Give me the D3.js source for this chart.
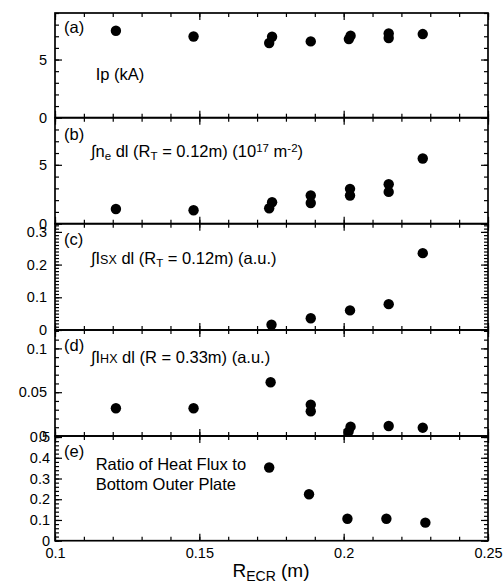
<!DOCTYPE html>
<html><head><meta charset="utf-8">
<script src="https://cdn.jsdelivr.net/npm/d3@7"></script>
<style>
body{margin:0;background:#fff}
svg{display:block}
text{font-family:"Liberation Sans",Arial,Helvetica,sans-serif;fill:#000}
</style>
</head><body>
<svg id="chart" width="503" height="582"></svg>
<script>
// ---------- data ----------
const xDomain = [0.1, 0.25];
const xMajorTicks = [0.1, 0.15, 0.2, 0.25];
const xTickLabels = ["0.1", "0.15", "0.2", "0.25"];
const xMinorStep = 0.01;

// (a) Ip (kA)
const ipR   = [0.1211, 0.1480, 0.1742, 0.1752, 0.1886, 0.2018, 0.2024, 0.2156, 0.2156, 0.2274];
const ipVal = [7.47,   6.98,   6.42,   6.96,   6.56,   6.76,   7.04,   6.85,   7.24,   7.19];

// (b) line density (10^17 m^-2)
const neR   = [0.1211, 0.1480, 0.1742, 0.1752, 0.1886, 0.1886, 0.2022, 0.2022, 0.2156, 0.2156, 0.2274];
const neVal = [1.25,   1.14,   1.31,   1.82,   1.76,   2.39,   2.39,   2.96,   2.70,   3.35,   5.54];

// (c) soft X-ray (a.u.)
const sxR   = [0.1750, 0.1886, 0.2022, 0.2156, 0.2274];
const sxVal = [0.016,  0.036,  0.060,  0.079,  0.235];

// (d) hard X-ray (a.u.)
const hxR   = [0.1211, 0.1480, 0.1747, 0.1886, 0.1886, 0.2017, 0.2024, 0.2156, 0.2274];
const hxVal = [0.0317, 0.0317, 0.0614, 0.0358, 0.0282, 0.0050, 0.0107, 0.0114, 0.0095];

// (e) ratio of heat flux to bottom outer plate
const ratioR   = [0.1742, 0.1880, 0.2013, 0.2148, 0.2283];
const ratioVal = [0.353,  0.224,  0.106,  0.106,  0.087];

const aTicks = [0, 5],                    aTickLabels = ["0", "5"];
const bTicks = [0, 5],                    bTickLabels = ["0", "5"];
const cTicks = [0, 0.1, 0.2, 0.3],        cTickLabels = ["0", "0.1", "0.2", "0.3"];
const dTicks = [0, 0.05, 0.1],            dTickLabels = ["0", "0.05", "0.1"];
const eTicks = [0, 0.1, 0.2, 0.3, 0.4, 0.5], eTickLabels = ["0", "0.1", "0.2", "0.3", "0.4", "0.5"];

// ---------- layout ----------
const svg = d3.select("#chart");
const left = 55, right = 488;
const edges = [13, 117.7, 223.7, 330, 436, 540.7];
const x = d3.scaleLinear().domain(xDomain).range([left, right]);

const panels = [
  {r: ipR, v: ipVal, dom: [0, 9],     ticks: aTicks, labels: aTickLabels, minor: 1,    lx: 47},
  {r: neR, v: neVal, dom: [0, 9],     ticks: bTicks, labels: bTickLabels, minor: 1,    lx: 47},
  {r: sxR, v: sxVal, dom: [0, 0.325], ticks: cTicks, labels: cTickLabels, minor: 0.01, lx: 47},
  {r: hxR, v: hxVal, dom: [0, 0.121], ticks: dTicks, labels: dTickLabels, minor: 0.01, lx: 47},
  {r: ratioR, v: ratioVal, dom: [0, 0.505], ticks: eTicks, labels: eTickLabels, minor: 0.02, lx: 50}
];

const xMinor = d3.range(0, 16).map(i => +(0.1 + i * xMinorStep).toFixed(3));
const noDomain = g => g.select(".domain").remove();

panels.forEach((p, i) => {
  const y0 = edges[i + 1], y1 = edges[i];
  const y = d3.scaleLinear().domain(p.dom).range([y0, y1]);
  const n = Math.floor(p.dom[1] / p.minor + 1e-6);
  const yMinor = d3.range(0, n + 1).map(k => +(k * p.minor).toFixed(4));
  const g = svg.append("g");
  const fmt = d => { const k = p.ticks.indexOf(d); return k >= 0 ? p.labels[k] : ""; };

  // left axis: minor + major (inward), labels
  g.append("g").attr("transform", `translate(${left},0)`)
    .call(d3.axisLeft(y).tickValues(yMinor).tickSizeInner(-4).tickSizeOuter(0).tickFormat(""))
    .call(noDomain);
  g.append("g").attr("class", "ylab").attr("transform", `translate(${left},0)`)
    .call(d3.axisLeft(y).tickValues(p.ticks).tickSizeInner(-7).tickSizeOuter(0).tickPadding(left - p.lx).tickFormat(fmt))
    .call(noDomain);
  // right axis
  g.append("g").attr("transform", `translate(${right},0)`)
    .call(d3.axisRight(y).tickValues(yMinor).tickSizeInner(-4).tickSizeOuter(0).tickFormat(""))
    .call(noDomain);
  g.append("g").attr("transform", `translate(${right},0)`)
    .call(d3.axisRight(y).tickValues(p.ticks).tickSizeInner(-7).tickSizeOuter(0).tickFormat(""))
    .call(noDomain);
  // top & bottom x ticks (inward)
  g.append("g").attr("transform", `translate(0,${y1})`)
    .call(d3.axisTop(x).tickValues(xMinor).tickSizeInner(-4).tickSizeOuter(0).tickFormat(""))
    .call(noDomain);
  g.append("g").attr("transform", `translate(0,${y1})`)
    .call(d3.axisTop(x).tickValues(xMajorTicks).tickSizeInner(-7).tickSizeOuter(0).tickFormat(""))
    .call(noDomain);
  g.append("g").attr("transform", `translate(0,${y0})`)
    .call(d3.axisBottom(x).tickValues(xMinor).tickSizeInner(-4).tickSizeOuter(0).tickFormat(""))
    .call(noDomain);
  const last = i === panels.length - 1;
  g.append("g").attr("class", "xlab").attr("transform", `translate(0,${y0})`)
    .call(d3.axisBottom(x).tickValues(xMajorTicks).tickSizeInner(-7).tickSizeOuter(0).tickPadding(7)
      .tickFormat(last ? (d => xTickLabels[xMajorTicks.indexOf(d)]) : ""))
    .call(noDomain);

  // frame
  g.append("rect").attr("x", left).attr("y", y1).attr("width", right - left).attr("height", y0 - y1)
    .attr("fill", "none").attr("stroke", "#000").attr("stroke-width", 1.7);

  // dots
  g.selectAll("circle.pt").data(p.r.map((r, k) => [r, p.v[k]])).join("circle")
    .attr("class", "pt").attr("cx", d => x(d[0])).attr("cy", d => y(d[1])).attr("r", 5.2).attr("fill", "#000");
});

svg.selectAll(".tick line").attr("stroke", "#000").attr("stroke-width", 1.2);
svg.selectAll(".tick text").attr("font-size", 14.5).attr("font-family", "Liberation Sans, Arial, sans-serif").attr("fill", "#000");

// ---------- panel annotations ----------
const FS = 16.5, SUB = 11.5;
function addText(xp, yp, parts) {
  const t = svg.append("text").attr("x", xp).attr("y", yp).attr("font-size", FS);
  parts.forEach(pt => {
    const s = t.append("tspan").text(pt.t);
    if (pt.fs) s.attr("font-size", pt.fs);
    if (pt.dy) s.attr("dy", pt.dy);
  });
  return t;
}
const tags = ["(a)", "(b)", "(c)", "(d)", "(e)"];
const tagY = [32.5, 139.5, 244.5, 350.5, 456.5];
tags.forEach((s, i) => svg.append("text").attr("x", 64).attr("y", tagY[i]).attr("font-size", FS).text(s));

addText(95.7, 80, [{t: "Ip (kA)"}]);
addText(91, 157, [
  {t: "\u222Bn"}, {t: "e", fs: SUB, dy: 3}, {t: " dl (R", dy: -3}, {t: "T", fs: SUB, dy: 3},
  {t: " = 0.12m) (10", dy: -3}, {t: "17", fs: SUB, dy: -5}, {t: " m", dy: 5}, {t: "-2", fs: SUB, dy: -5}, {t: ")", dy: 5}
]);
addText(91, 264, [
  {t: "\u222BI"}, {t: "SX", fs: 12.5}, {t: " dl (R"}, {t: "T", fs: SUB, dy: 3}, {t: " = 0.12m) (a.u.)", dy: -3}
]);
addText(91, 363, [
  {t: "\u222BI"}, {t: "HX", fs: 12.5}, {t: " dl (R = 0.33m) (a.u.)"}
]);
addText(95.7, 470, [{t: "Ratio of Heat Flux to"}]);
addText(95.7, 490, [{t: "Bottom Outer Plate"}]);

// x axis title
const xt = svg.append("text").attr("x", 271).attr("y", 576.5).attr("text-anchor", "middle").attr("font-size", 19);
xt.append("tspan").text("R");
xt.append("tspan").text("ECR").attr("font-size", 14).attr("dy", 4);
xt.append("tspan").text(" (m)").attr("dy", -4);
</script>
</body></html>
